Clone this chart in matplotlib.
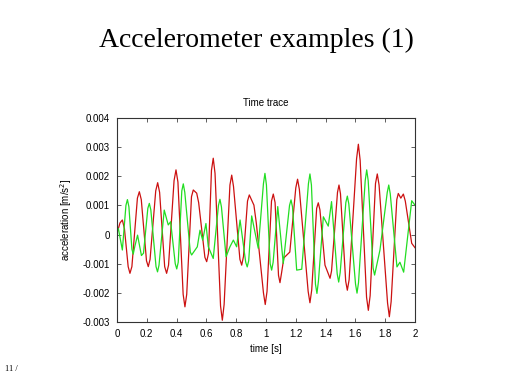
import matplotlib
matplotlib.use('Agg')
import matplotlib.pyplot as plt

# values in units of 1e-3 m/s^2
red_t = [0.000, 0.020, 0.036, 0.050, 0.075, 0.087, 0.100, 0.137, 0.150, 0.163,
         0.198, 0.210, 0.222, 0.260, 0.273, 0.286, 0.320, 0.333, 0.346, 0.383,
         0.396, 0.409, 0.444, 0.456, 0.468, 0.500, 0.512, 0.535, 0.548, 0.590,
         0.602, 0.614, 0.634, 0.646, 0.658, 0.695, 0.707, 0.719, 0.758, 0.770,
         0.782, 0.825, 0.837, 0.849, 0.876, 0.888, 0.919, 0.935, 0.983, 0.995,
         1.007, 1.037, 1.049, 1.061, 1.084, 1.094, 1.105, 1.120, 1.160, 1.200,
         1.212, 1.224, 1.283, 1.295, 1.307, 1.340, 1.351, 1.362, 1.396, 1.430,
         1.440, 1.480, 1.490, 1.500, 1.535, 1.546, 1.558, 1.608, 1.620, 1.632,
         1.675, 1.687, 1.699, 1.735, 1.747, 1.759, 1.816, 1.828, 1.840, 1.878,
         1.888, 1.905, 1.922, 1.935, 1.978, 2.000]
red_v = [0.04, 0.40, 0.50, 0.20, -1.10, -1.33, -1.10, 1.25, 1.47, 1.20,
         -0.90, -1.10, -0.85, 1.50, 1.78, 1.45, -1.10, -1.33, -1.05, 1.85,
         2.22, 1.80, -2.05, -2.48, -2.05, 1.30, 1.53, 1.42, 1.10, -0.78,
         -0.93, -0.65, 2.20, 2.62, 2.10, -2.45, -2.94, -2.40, 1.70, 2.04,
         1.65, -0.85, -1.05, -0.75, 1.15, 1.36, 1.01, 0.40, -2.00, -2.40,
         -1.95, 1.15, 1.39, 1.10, -1.40, -1.65, -1.30, -0.80, -0.60, 1.60,
         1.90, 1.55, -1.95, -2.34, -1.90, 0.90, 1.09, 0.85, -1.05, -1.50,
         -1.25, 1.45, 1.70, 1.40, -1.60, -1.91, -1.55, 2.60, 3.10, 2.55,
         -2.15, -2.60, -2.10, 1.75, 2.08, 1.70, -2.35, -2.82, -2.30, 1.20,
         1.41, 1.25, 1.39, 1.15, -0.30, -0.45]

green_t = [0.000, 0.009, 0.036, 0.060, 0.070, 0.080, 0.100, 0.109, 0.120, 0.138,
           0.164, 0.178, 0.207, 0.217, 0.227, 0.262, 0.272, 0.282, 0.317, 0.344,
           0.360, 0.391, 0.401, 0.411, 0.435, 0.445, 0.455, 0.492, 0.501, 0.539,
           0.557, 0.575, 0.597, 0.613, 0.646, 0.681, 0.691, 0.701, 0.732, 0.758,
           0.781, 0.803, 0.826, 0.864, 0.874, 0.884, 0.904, 0.948, 0.983, 0.993,
           1.003, 1.028, 1.038, 1.048, 1.079, 1.116, 1.158, 1.168, 1.178, 1.206,
           1.240, 1.285, 1.295, 1.305, 1.332, 1.342, 1.352, 1.385, 1.418, 1.440,
           1.478, 1.488, 1.498, 1.536, 1.546, 1.556, 1.601, 1.611, 1.621, 1.666,
           1.676, 1.686, 1.719, 1.729, 1.765, 1.814, 1.824, 1.834, 1.879, 1.899,
           1.924, 1.978, 2.000]
green_v = [0.10, 0.21, -0.53, 1.00, 1.20, 0.95, -0.50, -0.67, -0.40, -0.02,
           -0.72, -0.64, 0.90, 1.07, 0.85, -1.10, -1.28, -1.05, 0.84, 0.33,
           0.44, -1.00, -1.18, -0.95, 1.50, 1.74, 1.45, -0.60, -0.70, -0.42,
           0.15, -0.19, 0.38, -0.42, -0.82, 1.00, 1.21, 0.95, -0.76, -0.42,
           -0.19, -0.42, 0.50, -0.95, -1.11, -0.90, 0.64, -0.47, 1.75, 2.10,
           1.70, -1.00, -1.22, -0.95, 0.96, -0.99, 1.00, 1.19, 0.95, -1.22,
           -1.19, 1.75, 2.08, 1.70, -1.70, -2.02, -1.60, 0.61, 0.29, 1.13,
           -1.35, -1.63, -1.30, 1.10, 1.32, 1.05, -1.70, -2.01, -1.65, 1.85,
           2.22, 1.85, -1.15, -1.39, -0.53, 1.45, 1.70, 1.40, -1.11, -0.95,
           -1.29, 1.16, 1.01]

xticks = [0, 0.2, 0.4, 0.6, 0.8, 1, 1.2, 1.4, 1.6, 1.8, 2]
xlabels = ['0', '0.2', '0.4', '0.6', '0.8', '1', '1.2', '1.4', '1.6', '1.8', '2']
yticks = [-0.003, -0.002, -0.001, 0, 0.001, 0.002, 0.003, 0.004]
ylabels = ['-0.003', '-0.002', '-0.001', '0', '0.001', '0.002', '0.003', '0.004']

sans = 'Liberation Sans'
serif = 'Liberation Serif'

fig = plt.figure(figsize=(5.12, 3.84), dpi=100)
ax = fig.add_axes([0.2285, 0.1615, 0.582, 0.5312])

ax.plot(red_t, [v * 1e-3 for v in red_v], color='#cc1111', lw=0.9)
ax.plot(green_t, [v * 1e-3 for v in green_v], color='#22dd22', lw=0.9)

ax.set_xlim(0, 2)
ax.set_ylim(-0.003, 0.004)
ax.set_xticks(xticks)
ax.set_xticklabels(xlabels, fontsize=7, family=sans)
ax.set_yticks(yticks)
ax.set_yticklabels(ylabels, fontsize=7, family=sans)
ax.tick_params(direction='in', length=3, width=0.6, top=True, right=True, color='#444444', pad=5)
for s in ax.spines.values():
    s.set_color('#333333')
    s.set_linewidth(0.8)

ax.set_xlabel('time [s]', fontsize=7, family=sans, labelpad=4)
ax.set_ylabel('acceleration [m/s$^2$]', fontsize=7, family=sans, labelpad=6)
ax.set_title('Time trace', fontsize=7, family=sans, pad=9)

fig.text(0.5, 0.895, 'Accelerometer examples (1)', ha='center', va='center',
         fontsize=20, family=serif)
fig.text(0.01, 0.035, '11 /', fontsize=6, family=serif)

fig.savefig('out.png', dpi=100)
